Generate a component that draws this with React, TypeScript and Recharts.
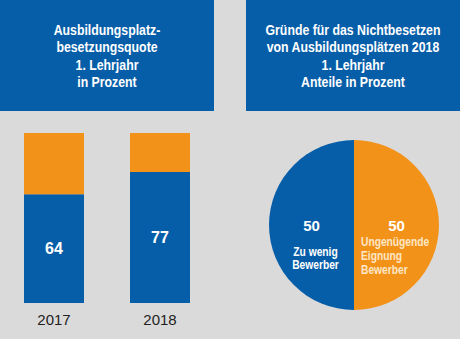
import { Bar, BarChart, Cell, LabelList, Pie, PieChart, XAxis, YAxis } from 'recharts'

const years = ['2017', '2018']
const besetzt = [64, 77]
const offen = [36, 23]

const gruende = ['Zu wenig Bewerber', 'Ungenügende Eignung Bewerber']
const gruendeLines = [['Zu wenig', 'Bewerber'], ['Ungenügende', 'Eignung', 'Bewerber']]
const gruendeAnteile = [50, 50]

const leftTitle = ['Ausbildungsplatz-', 'besetzungsquote', '1. Lehrjahr', 'in Prozent']
const rightTitle = ['Gründe für das Nichtbesetzen', 'von Ausbildungsplätzen 2018', '1. Lehrjahr', 'Anteile in Prozent']

const BLUE = '#075ea8'
const ORANGE = '#f39219'
const BG = '#dadada'
const SANS = '"Liberation Sans", Arial, sans-serif'
// no narrow font installed, so squeeze Liberation Sans horizontally
const SQUEEZE = 0.82

const barData = years.map((year, i) => ({ year, besetzt: besetzt[i], offen: offen[i] }))
const pieData = gruende.map((name, i) => ({ name, value: gruendeAnteile[i] }))

function Header({ lines, left, width }: { lines: string[]; left: number; width: number }) {
  return (
    <div
      style={{
        position: 'absolute',
        left,
        top: 0,
        width,
        height: 111,
        background: BLUE,
        color: '#fff',
        fontFamily: SANS,
        fontWeight: 'bold',
        fontSize: 15,
        lineHeight: '17.3px',
        textAlign: 'center',
        display: 'flex',
        flexDirection: 'column',
        justifyContent: 'center',
      }}
    >
      <div style={{ transform: `scaleX(${SQUEEZE})`, whiteSpace: 'nowrap' }}>
        {lines.map((l) => (
          <div key={l}>{l}</div>
        ))}
      </div>
    </div>
  )
}

function Squeezed({ x, y, anchor, size, fill, children }: { x: number; y: number; anchor: 'start' | 'middle'; size: number; fill: string; children: React.ReactNode }) {
  return (
    <g transform={`translate(${x},${y}) scale(${SQUEEZE},1)`}>
      <text x={0} y={0} textAnchor={anchor} fill={fill} fontFamily={SANS} fontWeight="bold" fontSize={size}>
        {children}
      </text>
    </g>
  )
}

type PieLabelProps = {
  cx: number
  cy: number
  midAngle: number
  outerRadius: number
  index: number
  value: number
}

function PieLabel({ cx, cy, midAngle, outerRadius, index, value }: PieLabelProps) {
  const rad = (Math.PI / 180) * midAngle
  const x = cx + outerRadius * 0.5 * Math.cos(rad)
  const left = index === 0
  const lines = gruendeLines[index]
  const subX = left ? x + 4 : cx + 7
  const subColor = left ? '#ffffff' : '#fde7c6'
  return (
    <g>
      <text x={x} y={cy + 6} textAnchor="middle" fill="#fff" fontFamily={SANS} fontWeight="bold" fontSize={15}>
        {value}
      </text>
      {lines.map((l, j) => (
        <Squeezed
          key={l}
          x={subX}
          y={cy + (left ? 31 : 21) + j * (left ? 12.5 : 14)}
          anchor={left ? 'middle' : 'start'}
          size={12.5}
          fill={subColor}
        >
          {l}
        </Squeezed>
      ))}
    </g>
  )
}

export default function App() {
  return (
    <div style={{ position: 'absolute', left: 0, top: 0, width: 460, height: 339, background: BG, overflow: 'hidden' }}>
      <Header lines={leftTitle} left={0} width={214} />
      <Header lines={rightTitle} left={246} width={214} />
      <div style={{ position: 'absolute', left: 0, top: 120 }}>
        <BarChart width={214} height={219} data={barData} margin={{ top: 13, right: 1, bottom: 0, left: 1 }}>
          <YAxis hide domain={[0, 100]} />
          <XAxis
            dataKey="year"
            axisLine={false}
            tickLine={false}
            height={36}
            tick={{ fontSize: 15, fill: '#222', fontFamily: SANS, dy: 3 }}
          />
          <Bar dataKey="besetzt" stackId="a" fill={BLUE} barSize={60} isAnimationActive={false}>
            <LabelList
              dataKey="besetzt"
              position="center"
              fill="#fff"
              fontSize={16}
              fontWeight="bold"
              fontFamily={SANS}
            />
          </Bar>
          <Bar dataKey="offen" stackId="a" fill={ORANGE} barSize={60} isAnimationActive={false} />
        </BarChart>
      </div>
      <div style={{ position: 'absolute', left: 230, top: 120 }}>
        <PieChart width={230} height={219}>
          <Pie
            data={pieData}
            dataKey="value"
            cx={119}
            cy={100}
            outerRadius={85}
            startAngle={90}
            endAngle={450}
            stroke="none"
            labelLine={false}
            label={PieLabel}
            isAnimationActive={false}
          >
            <Cell fill={BLUE} />
            <Cell fill={ORANGE} />
          </Pie>
        </PieChart>
      </div>
    </div>
  )
}
